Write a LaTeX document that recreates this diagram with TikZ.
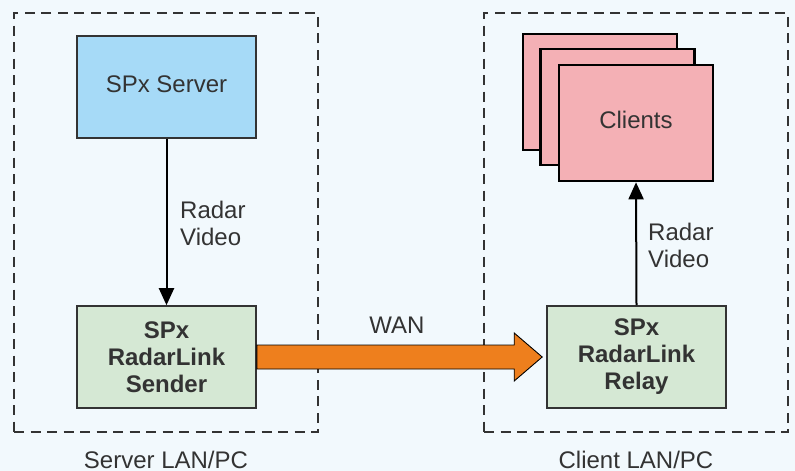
\documentclass[tikz,border=0pt]{standalone}
\usepackage{fontspec}
\setmainfont{Liberation Sans}
\usetikzlibrary{arrows.meta,calc}
\definecolor{bgc}{HTML}{F2F9FD}
\definecolor{serverc}{HTML}{A6DAF7}
\definecolor{greenc}{HTML}{D5E8D4}
\definecolor{pinkc}{HTML}{F4B0B5}
\definecolor{orangec}{HTML}{EE7F1D}
\definecolor{txt}{HTML}{333333}
\begin{document}
\begin{tikzpicture}[x=1pt,y=-1pt,
  font=\fontsize{24}{27}\selectfont,
  box/.style={draw=txt,line width=1.6pt,minimum width=179pt,minimum height=102pt,align=center,text=txt,inner sep=0pt},
  onebox/.style={text height=17.5pt,text depth=6pt},
  clientbox/.style={draw=black,line width=2.6pt,fill=pinkc,minimum width=154pt,minimum height=116pt,inner sep=0pt,text=txt},
  zone/.style={draw=txt,line width=1.8pt,dash pattern=on 10pt off 6.5pt,minimum width=304pt,minimum height=419pt,inner sep=0pt},
  lbl/.style={text=txt,inner sep=0pt},
  flow/.style={-{Triangle[length=17pt,width=15pt]},line width=2pt,black},
  wanline/.style={draw=black,line width=0.9pt,fill=orangec,line join=miter}]
\fill[bgc] (0,0) rectangle (795,471);
\useasboundingbox (0,0) rectangle (795,471);
\node[zone] (lan1) at (166,222.5) {};
\node[zone] (lan2) at (636,222.5) {};
\node[lbl,anchor=base] (lan1lbl) at (166,468) {Server LAN/PC};
\node[lbl,anchor=base] (lan2lbl) at (636,468) {Client LAN/PC};
\node[box,onebox,fill=serverc] (server) at (166.5,87) {SPx Server};
\node[box,fill=greenc,font=\fontsize{24}{27}\selectfont\bfseries] (sender) at (166.5,357) {SPx\\RadarLink\\Sender};
\node[box,fill=greenc,font=\fontsize{24}{27}\selectfont\bfseries] (relay) at (636.5,357) {SPx\\RadarLink\\Relay};
\node[clientbox] (c3) at (600,92) {};
\node[clientbox] (c2) at (617.5,107) {};
\node[clientbox,onebox] (c1) at (636,123) {Clients};
\draw[flow] (server.south) -- (sender.north);
\draw[flow] (relay.north) -- (c1.south);
\node[lbl,anchor=west,align=left] (rv1) at (180,223) {Radar\\Video};
\node[lbl,anchor=west,align=left] (rv2) at (648,245) {Radar\\Video};
\node[lbl] (wan) at (397,325) {WAN};
\draw[wanline] ($(sender.east)+(0,-12)$) -- ($(relay.west)+(-32,-12)$) -- ($(relay.west)+(-32,-24)$) -- ($(relay.west)+(-4,0)$) -- ($(relay.west)+(-32,24)$) -- ($(relay.west)+(-32,12)$) -- ($(sender.east)+(0,12)$) -- cycle;
\end{tikzpicture}
\end{document}
